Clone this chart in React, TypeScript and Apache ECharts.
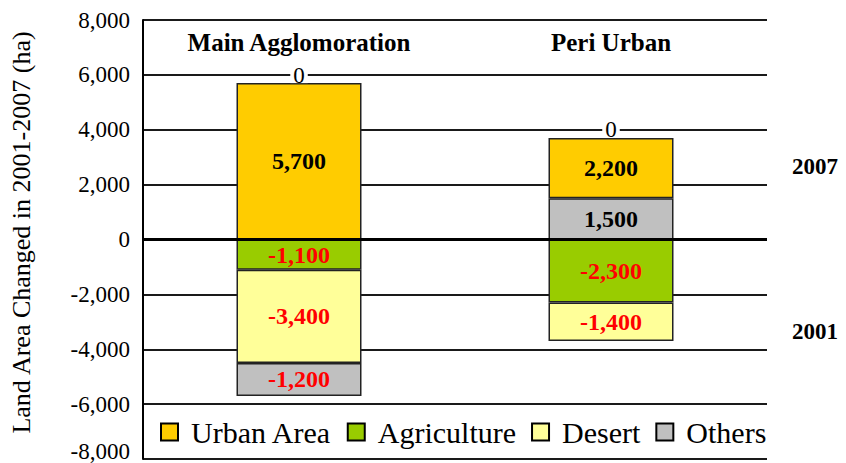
import React, { useEffect, useRef } from "react";
import * as echarts from "echarts";

const categories = ["Main Agglomoration", "Peri Urban"];
const legendNames = ["Urban Area", "Agriculture", "Desert", "Others"];
const urbanArea = [5700, 2200];
const agriculture = [-1100, -2300];
const desert = [-3400, -1400];
const others = [-1200, 1500];
const topTotals = [0, 0];
const yearLabels = ["2007", "2001"];

const SERIF = "'Liberation Serif', 'Times New Roman', serif";
const fmt = (v: number) => {
  const s = Math.abs(v).toLocaleString("en-US");
  return v < 0 ? "-" + s : s;
};

export default function App() {
  const ref = useRef<HTMLDivElement>(null);
  useEffect(() => {
    document.body.style.margin = "0";
    if (!ref.current) return;
    const chart = echarts.init(ref.current, undefined, { renderer: "svg" });
    const mk = (name: string, data: number[], color: string) => ({
      name,
      type: "bar",
      stack: "a",
      barWidth: 125,
      data: data.map((v) => ({
        value: v,
        label: { color: v < 0 ? "#ff0000" : "#000000" },
      })),
      itemStyle: { color, borderColor: "#222", borderWidth: 1.5 },
      label: {
        show: true,
        position: "inside",
        fontFamily: SERIF,
        fontWeight: "bold",
        fontSize: 24,
        formatter: (p: any) => fmt(p.value),
      },
    });
    chart.setOption({
      animation: false,
      backgroundColor: "#ffffff",
      textStyle: { fontFamily: SERIF },
      grid: { left: 140, right: 79, top: 20, bottom: 4, containLabel: false },
      legend: {
        data: legendNames,
        left: 155,
        top: 412,
        itemWidth: 17,
        itemHeight: 17,
        itemGap: 15,
        icon: "rect",
        itemStyle: { borderColor: "#000", borderWidth: 2 },
        textStyle: {
          fontFamily: SERIF,
          fontSize: 30,
          color: "#000",
          padding: [0, 0, 0, 8],
        },
      },
      xAxis: {
        type: "category",
        data: categories,
        position: "top",
        axisLine: { show: false },
        axisTick: { show: false },
        axisLabel: {
          inside: true,
          margin: 10,
          fontFamily: SERIF,
          fontWeight: "bold",
          fontSize: 25,
          color: "#000",
        },
      },
      yAxis: {
        type: "value",
        min: -8000,
        max: 8000,
        interval: 2000,
        name: "Land Area Changed in 2001-2007 (ha)",
        nameLocation: "middle",
        nameGap: 109,
        nameTextStyle: {
          fontFamily: SERIF,
          fontSize: 26,
          color: "#000",
          padding: [0, 0, 0, 14],
        },
        axisLine: { show: true, lineStyle: { color: "#000", width: 2 } },
        axisTick: { show: false },
        axisLabel: {
          margin: 13,
          fontFamily: SERIF,
          fontSize: 23,
          color: "#000",
          formatter: (v: number) =>
            v === -8000 ? "{b|" + fmt(v) + "}" : fmt(v),
          rich: {
            b: { fontFamily: SERIF, fontSize: 23, color: "#000", padding: [0, 0, 16, 0] },
          },
        },
        splitLine: { show: true, lineStyle: { color: "#1a1a1a", width: 1.8 } },
      },
      graphic: [
        {
          type: "text",
          left: 792,
          top: 155,
          style: { text: yearLabels[0], fontFamily: SERIF, fontWeight: "bold", fontSize: 23, fill: "#000" },
        },
        {
          type: "text",
          left: 792,
          top: 320,
          style: { text: yearLabels[1], fontFamily: SERIF, fontWeight: "bold", fontSize: 23, fill: "#000" },
        },
      ],
      series: [
        mk("Agriculture", agriculture, "#99cc00"),
        mk("Desert", desert, "#ffff99"),
        mk("Others", others, "#c0c0c0"),
        mk("Urban Area", urbanArea, "#ffcc00"),
        {
          name: "Total",
          type: "bar",
          stack: "a",
          barWidth: 125,
          data: topTotals,
          itemStyle: { color: "transparent", borderWidth: 0 },
          label: {
            show: true,
            position: "top",
            distance: 0,
            fontFamily: SERIF,
            fontSize: 23,
            lineHeight: 16,
            color: "#000",
            backgroundColor: "#fff",
            padding: [0, 3, 0, 3],
          },
          markLine: {
            silent: true,
            symbol: "none",
            label: { show: false },
            lineStyle: { color: "#000", width: 3, type: "solid" },
            data: [{ yAxis: 0 }],
          },
        },
      ],
    });
    return () => chart.dispose();
  }, []);
  return <div ref={ref} style={{ width: 846, height: 463 }} />;
}
